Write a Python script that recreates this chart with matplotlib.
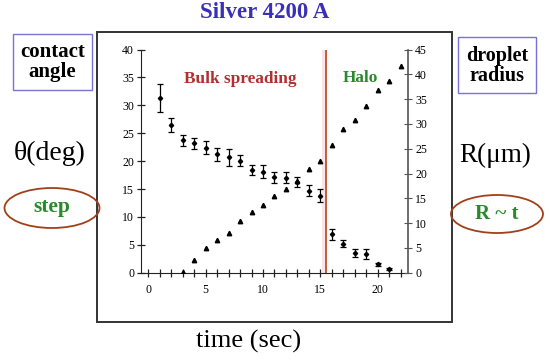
import matplotlib
matplotlib.use("Agg")
import matplotlib.pyplot as plt
from matplotlib.patches import Rectangle, Ellipse
import numpy as np

# ---- data ----
angle_time = [1, 2, 3, 4, 5, 6, 7, 8, 9, 10, 11, 12, 13, 14, 15, 16, 17, 18, 19, 20, 21]
angle_deg = [31.3, 26.5, 23.7, 23.2, 22.4, 21.2, 20.7, 20.1, 18.4, 18.1, 17.1, 17.0, 16.2, 14.7, 13.8,
             6.9, 5.2, 3.6, 3.3, 1.5, 0.7]
angle_err = [2.5, 1.3, 1.0, 1.0, 1.2, 1.2, 1.5, 1.0, 0.9, 1.2, 1.0, 1.0, 0.9, 1.0, 1.2,
             1.0, 0.6, 0.7, 0.9, 0.3, 0.2]
radius_time = [3, 4, 5, 6, 7, 8, 9, 10, 11, 12, 13, 14, 15, 16, 17, 18, 19, 20, 21, 22]
radius_um = [0.2, 2.6, 5.0, 6.6, 8.1, 10.5, 12.2, 13.7, 15.4, 16.9, 18.5, 20.9, 22.6,
             25.8, 28.9, 30.7, 33.7, 36.9, 38.6, 41.6]
transition_time = 15.5
x_major = [0, 5, 10, 15, 20]
y_left_ticks = [0, 5, 10, 15, 20, 25, 30, 35, 40]
y_right_ticks = [0, 5, 10, 15, 20, 25, 30, 35, 40, 45]

W, H = 550, 361
SERIF = ["Liberation Serif", "DejaVu Serif"]
plt.rcParams["font.family"] = SERIF


def fx(px):
    return px / W


def fy(py):
    return 1 - py / H


fig = plt.figure(figsize=(5.5, 3.61), dpi=100)
fig.patch.set_facecolor("white")

# outer plot box
fig.patches.append(Rectangle((fx(97), fy(322)), fx(452) - fx(97), fy(32) - fy(322),
                             transform=fig.transFigure, fill=False, edgecolor="#333333",
                             linewidth=1.4, zorder=0))

ax = fig.add_axes([fx(141), fy(272.7), fx(408.3) - fx(141), fy(49.5) - fy(272.7)])
ax.set_xlim(-0.64, 22.67)
ax.set_ylim(0, 40)
ax.set_facecolor("none")
ax.spines["top"].set_visible(False)
ax.spines["left"].set_color("#222222")
ax.spines["bottom"].set_color("#222222")
ax.spines["right"].set_visible(False)

ax.set_xticks(x_major)
ax.set_xticks(np.arange(0, 23), minor=True)
ax.set_yticks(y_left_ticks)
ax.tick_params(axis="both", which="both", direction="inout", labelsize=8.5, color="#222222",
               width=0.9)
ax.tick_params(axis="x", which="major", length=6, pad=5)
ax.tick_params(axis="x", which="minor", length=6)
ax.tick_params(axis="y", which="major", length=6, pad=2)

ax2 = ax.twinx()
ax2.set_ylim(0, 45)
ax2.set_yticks(y_right_ticks)
ax2.spines["top"].set_visible(False)
ax2.spines["left"].set_visible(False)
ax2.spines["bottom"].set_visible(False)
ax2.spines["right"].set_color("#555555")
ax2.spines["right"].set_linewidth(1.2)
ax2.tick_params(axis="y", direction="inout", length=6, labelsize=8.5, color="#555555", pad=2)

# transition line
ax.axvspan(transition_time - 0.35, transition_time, color="#fbe3ec", zorder=0, linewidth=0)
ax.axvline(transition_time, color="#c0502a", linewidth=1.3, zorder=1)

# data
ax.errorbar(angle_time, angle_deg, yerr=angle_err, fmt="D", markersize=2.2, color="black",
            ecolor="black", elinewidth=0.9, capsize=2, capthick=0.9, zorder=3)
ax2.plot(radius_time, radius_um, linestyle="none", marker="^", markersize=3.2, color="black",
         zorder=3)

ax.text(fx(240), fy(79), "Bulk spreading", transform=fig.transFigure, ha="center", va="center",
        fontsize=12.4, fontweight="bold", color="#b03030")
ax.text(fx(360), fy(78), "Halo", transform=fig.transFigure, ha="center", va="center",
        fontsize=12.4, fontweight="bold", color="#2a8a2a")

# title and labels
fig.text(fx(265), fy(13), "Silver 4200 A", ha="center", va="center", fontsize=16.5,
         fontweight="bold", color="#3a30b8")
fig.text(fx(249), fy(341), "time (sec)", ha="center", va="center", fontsize=19, color="black")

# left side annotations
fig.patches.append(Rectangle((fx(13), fy(90)), fx(92) - fx(13), fy(34) - fy(90),
                             transform=fig.transFigure, fill=False, edgecolor="#7a70d8",
                             linewidth=1.0))
fig.text(fx(52.5), fy(62), "contact\nangle", ha="center", va="center", fontsize=15,
         fontweight="bold", color="black", linespacing=0.95)
fig.text(fx(50), fy(153), "θ(deg)", ha="center", va="center", fontsize=20, color="black")
fig.patches.append(Ellipse((fx(52), fy(208)), fx(95), 40 / H, transform=fig.transFigure,
                           fill=False, edgecolor="#a0401a", linewidth=1.3))
fig.text(fx(52), fy(207), "step", ha="center", va="center", fontsize=15.5, fontweight="bold",
         color="#2a8a2a")

# right side annotations
fig.patches.append(Rectangle((fx(458), fy(93)), fx(536) - fx(458), fy(37) - fy(93),
                             transform=fig.transFigure, fill=False, edgecolor="#7a70d8",
                             linewidth=1.0))
fig.text(fx(497), fy(66), "droplet\nradius", ha="center", va="center", fontsize=14.5,
         fontweight="bold", color="black", linespacing=0.95)
fig.text(fx(495), fy(155), "R(μm)", ha="center", va="center", fontsize=19.5, color="black")
fig.patches.append(Ellipse((fx(497), fy(214)), fx(92), 38 / H, transform=fig.transFigure,
                           fill=False, edgecolor="#a0401a", linewidth=1.3))
fig.text(fx(497), fy(214), "R ~ t", ha="center", va="center", fontsize=15, fontweight="bold",
         color="#2a8a2a")

fig.savefig("out.png", dpi=100, facecolor="white")
